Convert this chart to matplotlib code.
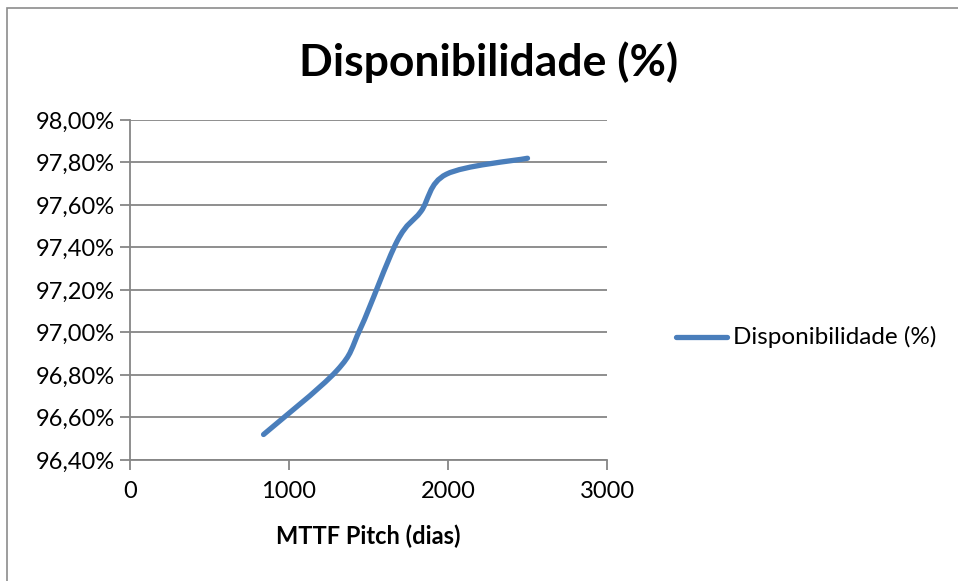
import matplotlib.pyplot as plt
import numpy as np
from matplotlib.path import Path
from matplotlib.patches import PathPatch, Rectangle
from matplotlib.lines import Line2D
from matplotlib.ticker import FuncFormatter

# MTTF do pitch (dias) x disponibilidade do sistema (%)
mttf_dias = [840, 1300, 1450, 1680, 1830, 1990, 2500]
disponibilidade = [96.52, 96.82, 97.02, 97.43, 97.57, 97.745, 97.82]

serie = "Disponibilidade (%)"
titulo = "Disponibilidade (%)"
rotulo_x = "MTTF Pitch (dias)"

cor_linha = "#4a7ebb"
cor_grade = "#868686"

plt.rcParams["font.family"] = ["Lato", "DejaVu Sans"]

W, H = 958, 581
fig = plt.figure(figsize=(W / 100, H / 100), dpi=100)

# moldura do gráfico
fig.patches.append(Rectangle((7 / W, -0.1), 1.2, 1 - 8 / H + 0.1,
                             transform=fig.transFigure, fill=False,
                             edgecolor="#8c8c8c", linewidth=1.2))

x0, x1 = 130, 607
y0, y1 = 120, 460
ax = fig.add_axes([x0 / W, 1 - y1 / H, (x1 - x0) / W, (y1 - y0) / H])

ax.set_xlim(0, 3000)
ax.set_ylim(96.4, 98.0)
ax.set_xticks([0, 1000, 2000, 3000])
ax.set_yticks(np.arange(96.4, 98.01, 0.2))
ax.yaxis.set_major_formatter(FuncFormatter(lambda v, p: f"{v:.2f}%".replace(".", ",")))

ax.grid(axis="y", color=cor_grade, linewidth=1.3)
ax.set_axisbelow(True)
for lado in ["top", "right"]:
    ax.spines[lado].set_visible(False)
for lado in ["left", "bottom"]:
    ax.spines[lado].set_color(cor_grade)
    ax.spines[lado].set_linewidth(1.3)
ax.tick_params(axis="both", direction="out", length=7, width=1.3,
               color=cor_grade, labelsize=17, labelcolor="black")
ax.tick_params(axis="x", pad=8)
ax.tick_params(axis="y", pad=4)

# linha suavizada (Bezier cúbica no estilo do Excel)
pts = np.column_stack([mttf_dias, disponibilidade]).astype(float)
ext = np.vstack([pts[0], pts, pts[-1]])
verts = [tuple(pts[0])]
codes = [Path.MOVETO]
for i in range(len(pts) - 1):
    p_ant, p0, p1, p_pos = ext[i], ext[i + 1], ext[i + 2], ext[i + 3]
    c1 = p0 + (p1 - p_ant) / 6
    c2 = p1 - (p_pos - p0) / 6
    verts += [tuple(c1), tuple(c2), tuple(p1)]
    codes += [Path.CURVE4] * 3
ax.add_patch(PathPatch(Path(verts, codes), facecolor="none", edgecolor=cor_linha,
                       linewidth=3.8, capstyle="round", joinstyle="round"))

fig.text(489 / W, 1 - 62 / H, titulo, ha="center", va="center",
         fontsize=32, fontweight="bold")
fig.text(368 / W, 1 - 536 / H, rotulo_x, ha="center", va="center",
         fontsize=17, fontweight="bold")

# legenda
fig.add_artist(Line2D([676 / W, 727 / W], [1 - 337 / H] * 2, color=cor_linha,
                      linewidth=3.8, solid_capstyle="round",
                      transform=fig.transFigure))
fig.text(733 / W, 1 - 337 / H, serie, ha="left", va="center", fontsize=17.5)

fig.savefig("out.png", dpi=100)
